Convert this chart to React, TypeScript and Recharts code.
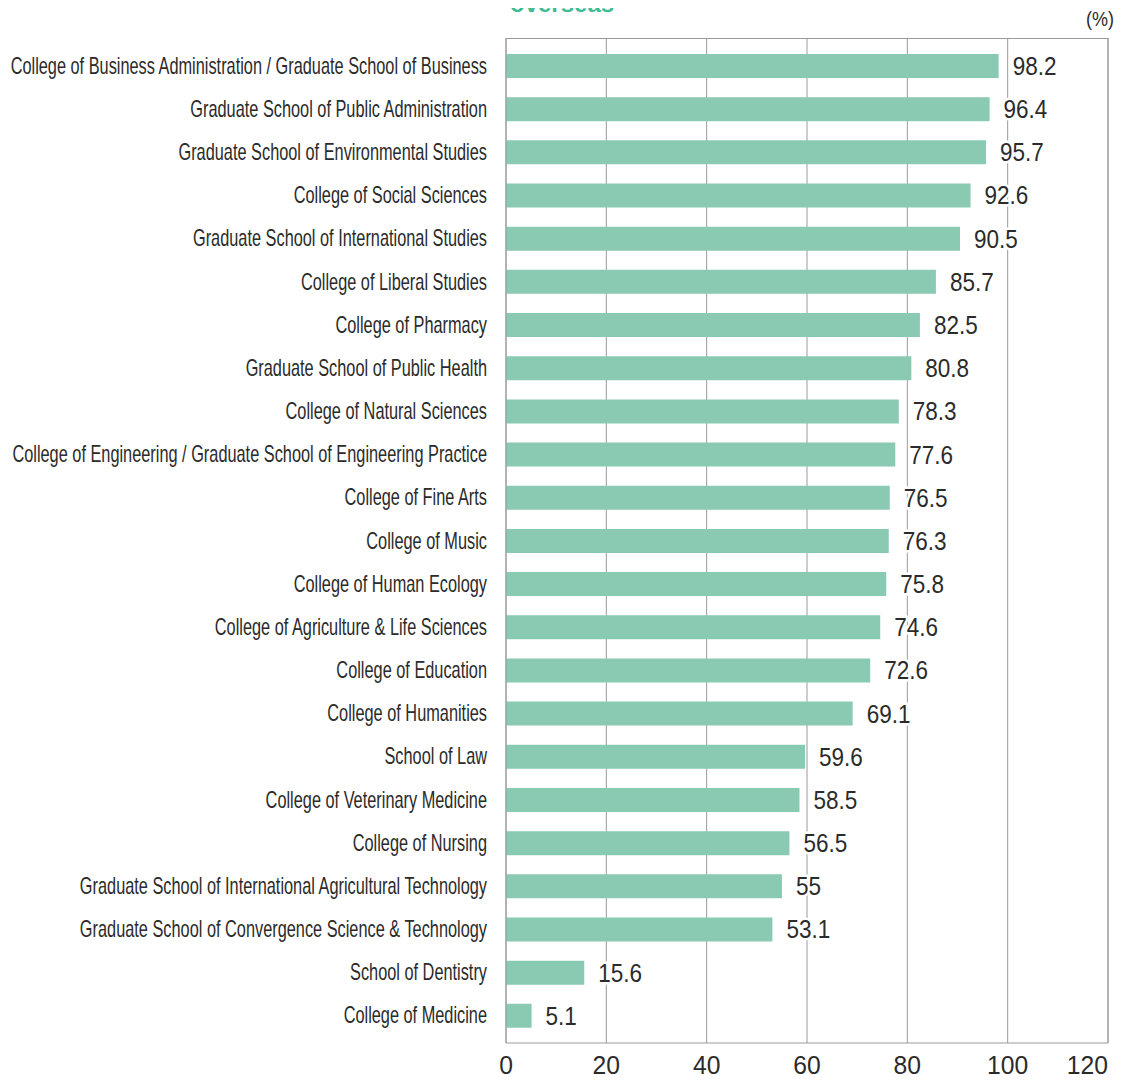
import React from "react";
import { BarChart, Bar, XAxis, YAxis, CartesianGrid, LabelList, ReferenceLine } from "recharts";

const categories = [
  "College of Business Administration / Graduate School of Business",
  "Graduate School of Public Administration",
  "Graduate School of Environmental Studies",
  "College of Social Sciences",
  "Graduate School of International Studies",
  "College of Liberal Studies",
  "College of Pharmacy",
  "Graduate School of Public Health",
  "College of Natural Sciences",
  "College of Engineering / Graduate School of Engineering Practice",
  "College of Fine Arts",
  "College of Music",
  "College of Human Ecology",
  "College of Agriculture & Life Sciences",
  "College of Education",
  "College of Humanities",
  "School of Law",
  "College of Veterinary Medicine",
  "College of Nursing",
  "Graduate School of International Agricultural Technology",
  "Graduate School of Convergence Science & Technology",
  "School of Dentistry",
  "College of Medicine",
];

const values = [
  98.2, 96.4, 95.7, 92.6, 90.5, 85.7, 82.5, 80.8, 78.3, 77.6, 76.5, 76.3, 75.8,
  74.6, 72.6, 69.1, 59.6, 58.5, 56.5, 55, 53.1, 15.6, 5.1,
];

const xTicks = [0, 20, 40, 60, 80, 100, 120];
const titleText = "overseas";
const unitText = "(%)";

const data = categories.map((name, i) => ({ name, value: values[i] }));

const FONT = "'Liberation Sans', Arial, sans-serif";
const GRID = "#9a9a9a";

const YTick = (props: any) => {
  const { x, y, payload } = props;
  return (
    <text
      transform={`translate(${x},${y}) scale(0.71,1)`}
      x={0}
      y={0}
      textAnchor="end"
      dominantBaseline="central"
      fontSize={23}
      fontFamily={FONT}
      fill="#2b2b2b"
    >
      {payload.value}
    </text>
  );
};

const XTick = (props: any) => {
  const { x, y, payload } = props;
  const last = payload.value === 120;
  return (
    <text
      transform={`translate(${x},${y + 5}) scale(0.95,1)`}
      x={0}
      y={0}
      dy="0.71em"
      textAnchor={last ? "end" : "middle"}
      fontSize={26}
      fontFamily={FONT}
      fill="#2b2b2b"
    >
      {payload.value}
    </text>
  );
};

const ValueLabel = (props: any) => {
  const { x, y, width, height, value } = props;
  const tx = Number(x) + Number(width) + 14;
  const ty = Number(y) + Number(height) / 2;
  return (
    <text
      transform={`translate(${tx},${ty}) scale(0.9,1)`}
      x={0}
      y={0}
      dominantBaseline="central"
      fontSize={25}
      fontFamily={FONT}
      fill="#2b2b2b"
      stroke="#fff"
      strokeWidth={5}
      paintOrder="stroke"
    >
      {value}
    </text>
  );
};

export default function App() {
  return (
    <div style={{ position: "relative", width: 1110, height: 1073 }}>
      <div
        style={{
          position: "absolute",
          left: 502,
          top: -18,
          fontFamily: FONT,
          fontWeight: "bold",
          fontSize: 24,
          color: "#3dbb91",
          whiteSpace: "nowrap",
          lineHeight: "normal",
        }}
      >
        {titleText}
      </div>
      <div
        style={{
          position: "absolute",
          left: 1078,
          top: 0,
          fontFamily: FONT,
          fontSize: 20,
          color: "#2b2b2b",
          whiteSpace: "nowrap",
          transform: "scaleX(0.9)",
          transformOrigin: "left top",
        }}
      >
        {unitText}
      </div>
      <BarChart
        layout="vertical"
        width={1110}
        height={1073}
        data={data}
        margin={{ top: 30, right: 10, left: 0, bottom: 0 }}
      >
        <CartesianGrid horizontal={false} stroke={GRID} />
        <CartesianGrid
          vertical={false}
          stroke={GRID}
          horizontalCoordinatesGenerator={(p: any) => [p.offset.top + 0.5]}
        />
        <XAxis
          type="number"
          domain={[0, 120]}
          ticks={xTicks}
          interval={0}
          axisLine={{ stroke: GRID }}
          tickLine={false}
          tick={<XTick />}
          height={38}
        />
        <YAxis
          type="category"
          dataKey="name"
          width={498}
          axisLine={{ stroke: GRID }}
          tickLine={false}
          tickMargin={13}
          tick={<YTick />}
          interval={0}
          padding={{ top: 6, bottom: 6 }}
        />
        <ReferenceLine x={120} stroke={GRID} />
        <Bar dataKey="value" fill="#8ac9b2" barSize={24} isAnimationActive={false}>
          <LabelList dataKey="value" content={<ValueLabel />} />
        </Bar>
      </BarChart>
    </div>
  );
}
